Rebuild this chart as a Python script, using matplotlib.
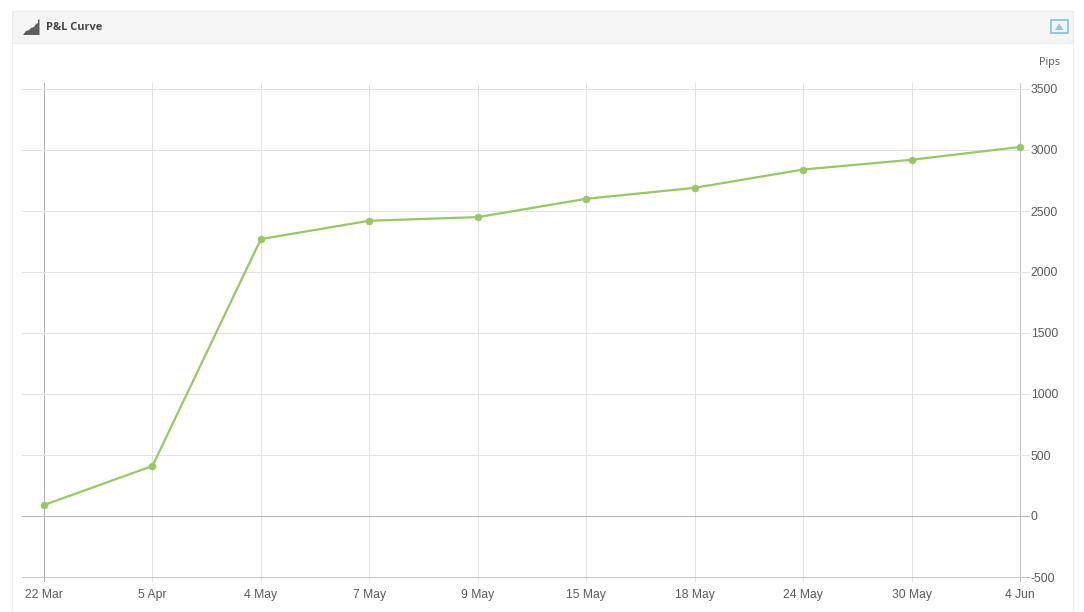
import matplotlib
matplotlib.use("Agg")
import matplotlib.pyplot as plt
from matplotlib.patches import Rectangle, Polygon

dates = ["22 Mar", "5 Apr", "4 May", "7 May", "9 May", "15 May", "18 May", "24 May", "30 May", "4 Jun"]
pips = [90, 410, 2270, 2420, 2450, 2600, 2690, 2840, 2920, 3025]
yticks = [-500, 0, 500, 1000, 1500, 2000, 2500, 3000, 3500]
ylabels = ["-500", "0", "500", "1000", "1500", "2000", "2500", "3000", "3500"]
title = "P&L Curve"
unit = "Pips"

W, H = 1084, 612
fig = plt.figure(figsize=(W / 100, H / 100), dpi=100, facecolor="white")

def fx(px): return px / W
def fy(py): return 1 - py / H

# panel frame and header
fig.add_artist(Rectangle((fx(11.5), fy(613)), 1061 / W, 601.5 / H, transform=fig.transFigure,
                         fc="white", ec="#ebebeb", lw=0.8))
fig.add_artist(Rectangle((fx(11.5), fy(43)), 1061 / W, 31.5 / H, transform=fig.transFigure,
                         fc="#f5f5f5", ec="#ebebeb", lw=0.8))
# header icon
icon = [(23, 35), (26, 31), (29, 30), (31, 28), (34, 27), (36, 24), (38, 23), (38, 19.5), (39.5, 19.5),
        (39.5, 35)]
fig.add_artist(Polygon([(fx(a), fy(b)) for a, b in icon], closed=True, transform=fig.transFigure,
                       fc="#5f5f5f", ec="none"))
# collapse button
fig.add_artist(Rectangle((fx(1051), fy(32.5)), 16.5 / W, 12.5 / H, transform=fig.transFigure,
                         fc="#eef6fb", ec="#8cc4e0", lw=1.3))
tri = [(1055, 30), (1063.5, 30), (1059.2, 23.5)]
fig.add_artist(Polygon([(fx(a), fy(b)) for a, b in tri], closed=True, transform=fig.transFigure,
                       fc="#9cc3e6", ec="none"))

fig.text(fx(46), fy(27.5), title, fontsize=7.9, fontweight="bold", family="Open Sans",
         color="#444444", ha="left", va="center")
fig.text(fx(1060), fy(62.5), unit, fontsize=7.8, family="Open Sans", color="#555555",
         ha="right", va="center")

# plot area
L, R, T, B = 22, 1030, 83, 582
ax = fig.add_axes([fx(L), fy(B), (R - L) / W, (B - T) / H], facecolor="none")
ax.set_zorder(5)
x = list(range(len(dates)))
step = (1020 - 44) / 9
ax.set_xlim((L - 44) / step, (R - 44) / step)
upp = 4000 / 488
ax.set_ylim(-500 - (B - 577) * upp, 3500 + (89 - T) * upp)

for s in ax.spines.values():
    s.set_visible(False)

ax.set_xticks(x)
ax.set_xticklabels(dates)
ax.yaxis.tick_right()
ax.set_yticks(yticks)
ax.set_yticklabels(ylabels)
ax.tick_params(axis="both", length=0, labelsize=8.7, labelcolor="#5a5a5a")
ax.tick_params(axis="x", pad=5)
ax.tick_params(axis="y", pad=0.5)
for lab in ax.get_xticklabels() + ax.get_yticklabels():
    lab.set_family("Liberation Sans")

ax.grid(True, color="#e2e2e2", lw=0.72)
ax.set_axisbelow(True)
# emphasised reference lines
for gl, t in zip(ax.get_ygridlines(), yticks):
    if t == 0:
        gl.set_color("#b5b5b5")
    if t == -500:
        gl.set_color("#c4c4c4")
for gl, t in zip(ax.get_xgridlines(), x):
    if t == 0:
        gl.set_color("#b0b0b0")
    if t == x[-1]:
        gl.set_color("#c4c4c4")

ax.plot(x, pips, color="#97c863", lw=1.6, marker="o", ms=5, mfc="#97c863", mec="#97c863",
        mew=0.4, clip_on=False, solid_joinstyle="round")

fig.savefig("out.png", dpi=100, facecolor="white")
